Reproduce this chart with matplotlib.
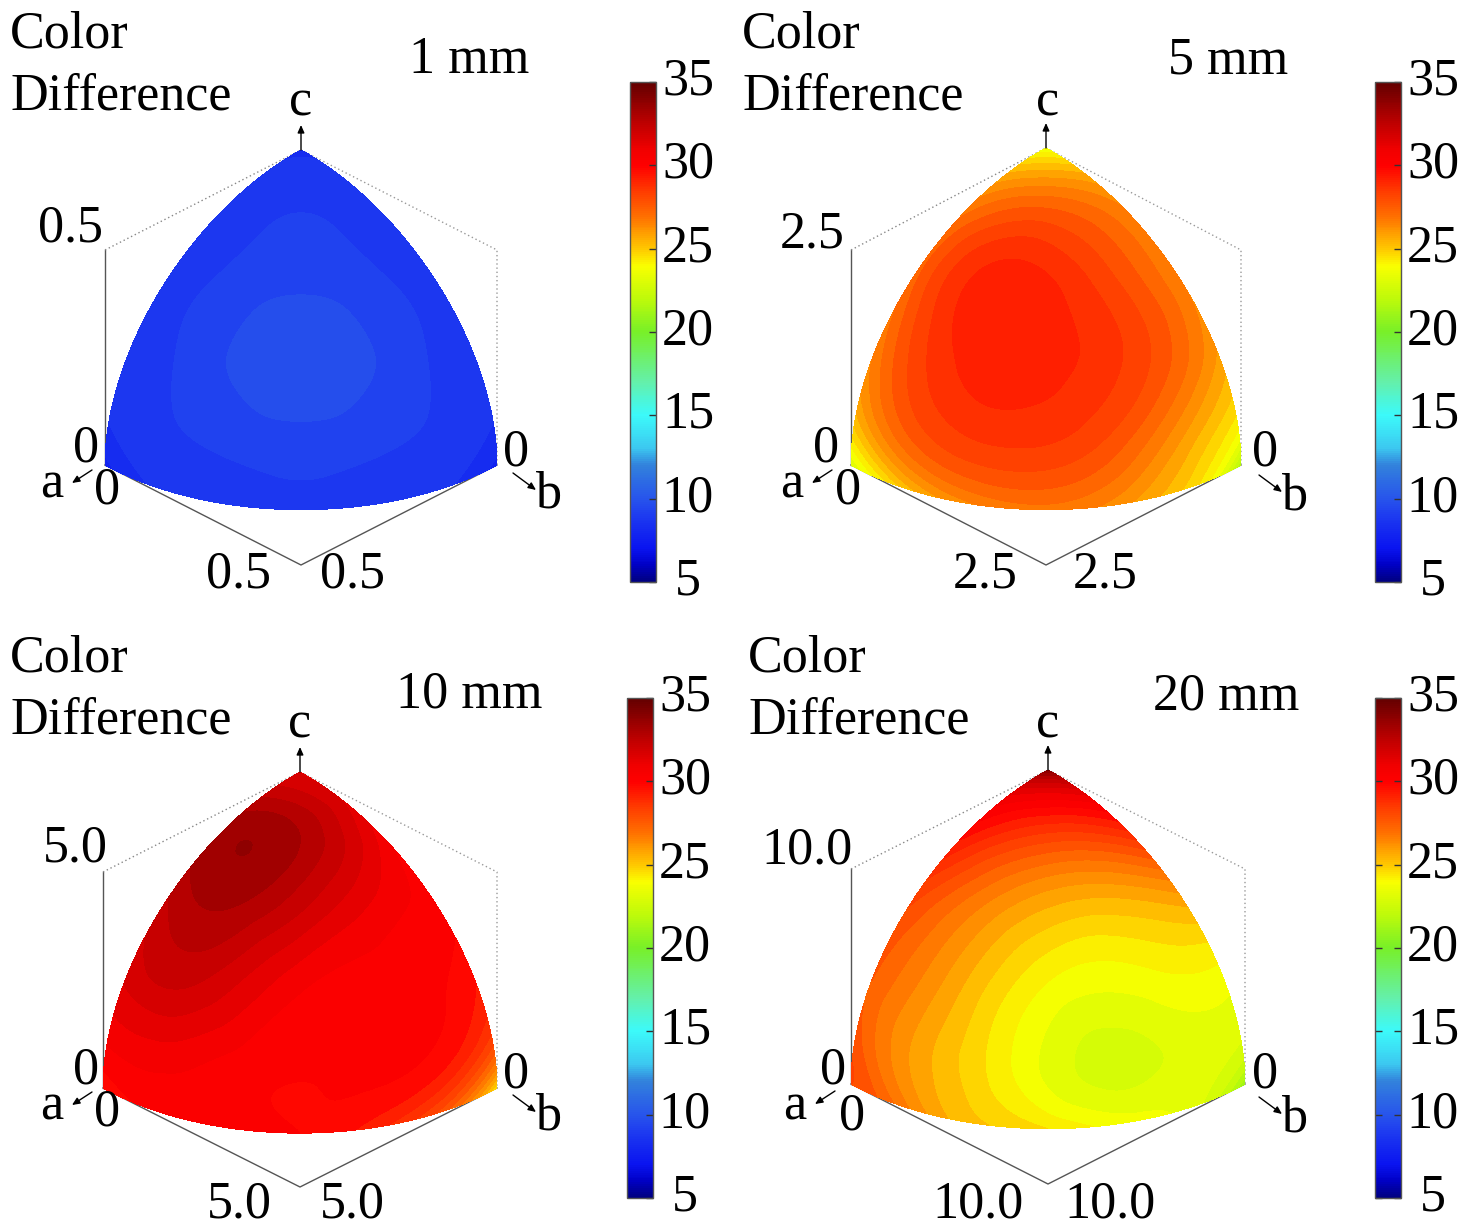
import numpy as np
import matplotlib
matplotlib.use("Agg")
import matplotlib.pyplot as plt
import matplotlib.tri as mtri
from matplotlib.cm import ScalarMappable
from matplotlib.colors import LinearSegmentedColormap, Normalize
from matplotlib.transforms import ScaledTranslation

plt.rcParams['font.family'] = ['Liberation Serif', 'DejaVu Serif']

# values, rows go from corner c down to edge a-b
# every row runs from the a side to the b side
diff_1mm = [
    [8.5],
    [8.6, 8.6],
    [8.7, 9.0, 8.7],
    [8.7, 9.2, 9.2, 8.7],
    [8.7, 9.2, 9.9, 9.2, 8.7],
    [8.5, 8.9, 9.15, 9.15, 8.9, 8.5],
    [7.8, 8.5, 8.8, 8.9, 8.8, 8.5, 7.8],
]
diff_5mm = [
    [23.5],
    [25.5, 25.5],
    [27.0, 27.6, 26.6],
    [27.2, 29.2, 28.3, 26.5],
    [26.5, 28.8, 29.2, 28.0, 25.8],
    [25.2, 27.5, 28.5, 28.0, 26.0, 24.3],
    [23.0, 24.8, 26.3, 26.8, 26.0, 24.5, 21.5],
]
diff_10mm = [
    [31.5],
    [32.5, 31.5],
    [33.3, 33.0, 30.6],
    [32.3, 33.0, 31.3, 30.2],
    [31.5, 32.0, 30.6, 30.2, 29.5],
    [30.5, 30.7, 30.2, 30.1, 29.8, 28.0],
    [29.5, 30.1, 30.1, 30.0, 29.0, 27.3, 24.5],
]
diff_20mm = [
    [34.0],
    [31.0, 31.0],
    [29.5, 28.5, 28.5],
    [28.0, 26.5, 25.5, 25.5],
    [27.5, 26.0, 24.0, 23.8, 23.7],
    [27.8, 26.0, 24.3, 22.8, 23.2, 23.0],
    [28.0, 27.0, 25.3, 24.5, 23.7, 23.0, 21.0],
]

titles = ["1 mm", "5 mm", "10 mm", "20 mm"]
axis_ticks = ["0.5", "2.5", "5.0", "10.0"]
cbar_ticks = [5, 10, 15, 20, 25, 30, 35]

# colour bar stops
cbar_stops = [5, 6, 7, 9, 10, 12, 13, 15, 17, 20, 22, 24, 25, 27, 29, 30, 31, 32.5, 35]
cbar_colors = ["#000082", "#0000c8", "#0a14f0", "#1e3cf0", "#2855eb", "#3282dc",
               "#3cc8f0", "#3cfafa", "#64f0aa", "#78f028", "#befa0a", "#faff00",
               "#ffc800", "#ff6e00", "#ff2800", "#ff0000", "#f00000", "#c00000", "#640000"]

# pixel layout of each panel
panels = [
    dict(vals=diff_1mm, cx=301, cy=357, hw=196, dn=108, up=207, lx=10, ly=47,
         title=(469, 58), c=(301, 100), tick=(70, 226), zl=(86, 447), a=(52, 483),
         z0=(107, 488), bl=(239, 572), br=(352, 572), zr=(516, 450), b=(549, 493),
         bar=(630, 82, 26, 500)),
    dict(vals=diff_5mm, cx=1046, cy=357, hw=195, dn=108, up=209, lx=742, ly=47,
         title=(1228, 58), c=(1048, 100), tick=(812, 232), zl=(826, 446), a=(792, 483),
         z0=(848, 488), bl=(985, 572), br=(1105, 572), zr=(1265, 450), b=(1295, 495),
         bar=(1375, 82, 26, 500)),
    dict(vals=diff_10mm, cx=300, cy=979, hw=197, dn=109, up=207, lx=10, ly=671,
         title=(469, 692), c=(300, 723), tick=(75, 846), zl=(86, 1068), a=(52, 1105),
         z0=(107, 1110), bl=(239, 1203), br=(352, 1203), zr=(516, 1073), b=(549, 1115),
         bar=(627, 698, 26, 500)),
    dict(vals=diff_20mm, cx=1048, cy=976, hw=197, dn=108, up=206, lx=748, ly=671,
         title=(1226, 695), c=(1048, 722), tick=(807, 848), zl=(833, 1068), a=(795, 1104),
         z0=(852, 1115), bl=(978, 1203), br=(1110, 1203), zr=(1265, 1073), b=(1295, 1117),
         bar=(1375, 698, 26, 500)),
]

W, H = 1476, 1229
FS = 37.5
TEXT_DY = 2
N_ROWS = 6

cmap = LinearSegmentedColormap.from_list(
    "bar", [((s - 5) / 30, c) for s, c in zip(cbar_stops, cbar_colors)], N=256)
norm = Normalize(5, 35)
levels = np.arange(5, 35.01, 0.5)


def flat_grid():
    xs, ys, tris = [], [], []
    idx = {}
    for r in range(N_ROWS + 1):
        for i in range(r + 1):
            idx[(r, i)] = len(xs)
            b = i / N_ROWS
            c = 1 - r / N_ROWS
            xs.append(b + 0.5 * c)
            ys.append(c)
    for r in range(N_ROWS):
        for i in range(r + 1):
            tris.append([idx[(r, i)], idx[(r + 1, i)], idx[(r + 1, i + 1)]])
            if i < r:
                tris.append([idx[(r, i)], idx[(r + 1, i + 1)], idx[(r, i + 1)]])
    return mtri.Triangulation(np.array(xs), np.array(ys), np.array(tris))


def project(x, y, p):
    # flat triangle -> sphere octant -> picture
    c = y
    b = x - 0.5 * y
    a = 1 - b - c
    n = np.sqrt(a**2 + b**2 + c**2)
    a, b, c = a / n, b / n, c / n
    px = p['cx'] + (b - a) * p['hw']
    py = p['cy'] + (a + b) * p['dn'] - c * p['up']
    return px, py


def label(ax, pos, s):
    ax.text(pos[0], pos[1] + TEXT_DY, s, fontsize=FS, ha='center', va='center')


fig = plt.figure(figsize=(W / 100, H / 100), dpi=100)
ax = fig.add_axes([0, 0, 1, 1])
ax.set_xlim(0, W)
ax.set_ylim(H, 0)
ax.axis('off')

grid = flat_grid()
refiner = mtri.UniformTriRefiner(grid)

for p, title, tick in zip(panels, titles, axis_ticks):
    cx, cy, hw = p['cx'], p['cy'], p['hw']
    left_y = cy + p['dn']
    top_y = cy - p['up']
    box_y = cy - 107
    bot_y = cy + 208

    # box behind the surface
    ax.plot([cx - hw, cx - hw], [box_y, left_y], color='#555555', lw=1, zorder=1)
    ax.plot([cx - hw, cx, cx + hw], [left_y, bot_y, left_y], color='#555555', lw=1, zorder=1)
    ax.plot([cx - hw, cx], [box_y, top_y], color='#888888', lw=1, ls=(0, (1, 2)), zorder=1)
    ax.plot([cx, cx + hw, cx + hw], [top_y, box_y, left_y], color='#999999', lw=1,
            ls=(0, (1, 2)), zorder=1)

    vals = np.concatenate(p['vals'])
    fine, fine_vals = refiner.refine_field(vals, subdiv=4)
    px, py = project(fine.x, fine.y, p)
    surf = mtri.Triangulation(px, py, fine.triangles)
    ax.tricontourf(surf, fine_vals, levels=levels, cmap=cmap, norm=norm, zorder=2,
                   extend='both')

    # axis arrows
    arrow = dict(arrowstyle='-|>,head_width=0.2,head_length=0.45', color='black', lw=1,
                 shrinkA=0, shrinkB=0)
    ax.annotate('', xy=(cx, top_y - 25), xytext=(cx, top_y), arrowprops=arrow, zorder=3)
    ax.annotate('', xy=(p['a'][0] + 20, p['a'][1]), xytext=(p['a'][0] + 40, p['a'][1] - 13),
                arrowprops=arrow, zorder=3)
    ax.annotate('', xy=(p['b'][0] - 13, p['b'][1] - 3), xytext=(p['b'][0] - 36, p['b'][1] - 20),
                arrowprops=arrow, zorder=3)

    # text
    ax.text(p['lx'], p['ly'], "Color", fontsize=FS, ha='left', va='baseline')
    ax.text(p['lx'], p['ly'] + 62, "Difference", fontsize=FS, ha='left', va='baseline')
    label(ax, p['title'], title)
    label(ax, p['c'], "c")
    label(ax, p['a'], "a")
    label(ax, p['b'], "b")
    label(ax, p['tick'], tick)
    label(ax, p['bl'], tick)
    label(ax, p['br'], tick)
    for key in ['zl', 'z0', 'zr']:
        label(ax, p[key], "0")

    # colour bar
    bx, by, bw, bh = p['bar']
    cax = fig.add_axes([bx / W, 1 - (by + bh) / H, bw / W, bh / H])
    cb = fig.colorbar(ScalarMappable(norm=norm, cmap=cmap), cax=cax)
    cb.set_ticks(cbar_ticks)
    cb.ax.tick_params(direction='in', length=5, width=1, color='#333333', pad=23,
                      labelsize=FS, right=True, left=True)
    shift = ScaledTranslation(0, 6 / 100, fig.dpi_scale_trans)
    for lab in cb.ax.get_yticklabels():
        lab.set_ha('center')
        lab.set_transform(lab.get_transform() + shift)
    cb.outline.set_edgecolor('#555555')
    cb.outline.set_linewidth(1)

fig.savefig("out.png", dpi=100)
